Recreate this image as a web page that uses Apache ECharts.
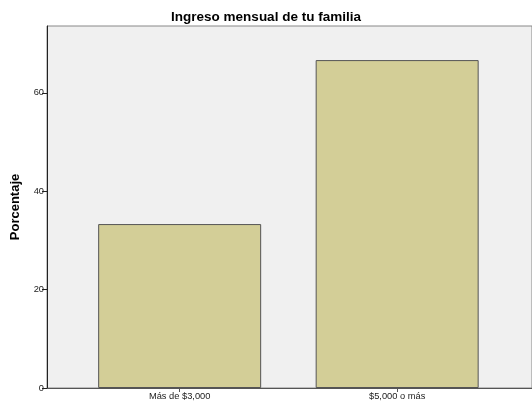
<!DOCTYPE html>
<html>
<head>
<meta charset="utf-8">
<script src="https://cdn.jsdelivr.net/npm/echarts@6/dist/echarts.min.js"></script>
<style>
  html, body { margin: 0; padding: 0; background: #fff; }
  #main { width: 532px; height: 408px; }
</style>
</head>
<body>
<div id="main"></div>
<script>
// datos del grafico
var categorias = ['Más de $3,000', '$5,000 o más'];
var posiciones = [1, 2];
var porcentajes = [33.33, 66.67];
var ticksY = [0, 20, 40, 60];

var myChart = echarts.init(document.getElementById('main'));

var datos = [];
for (var i = 0; i < categorias.length; i++) {
    datos.push([posiciones[i], porcentajes[i]]);
}

var option = {
    animation: false,
    backgroundColor: '#ffffff',
    title: {
        text: 'Ingreso mensual de tu familia',
        left: 'center',
        top: 5,
        textStyle: { fontFamily: 'Liberation Sans', fontSize: 13.5, fontWeight: 'bold', color: '#000' }
    },
    grid: {
        left: 47, right: -2, top: 26, bottom: 20,
        show: true,
        backgroundColor: '#f0f0f0',
        borderColor: '#888',
        borderWidth: 1
    },
    xAxis: {
        type: 'value',
        min: 0.39,
        max: 2.62,
        splitLine: { show: false },
        axisLine: { show: true, onZero: false, lineStyle: { color: '#555', width: 1 } },
        axisTick: { show: true, customValues: posiciones, length: 4, lineStyle: { color: '#555' } },
        axisLabel: {
            customValues: posiciones,
            formatter: function (v) { return categorias[Math.round(v) - 1]; },
            fontFamily: 'Liberation Sans', fontSize: 9.3, color: '#222', margin: 4
        }
    },
    yAxis: {
        type: 'value',
        min: 0,
        max: 73.6,
        name: 'Porcentaje',
        nameLocation: 'middle',
        nameGap: 25,
        nameTextStyle: { fontFamily: 'Liberation Sans', fontSize: 13, fontWeight: 'bold', color: '#000' },
        splitLine: { show: false },
        axisLine: { show: true, lineStyle: { color: '#222', width: 1 } },
        axisTick: { show: true, customValues: ticksY, length: 5, lineStyle: { color: '#222' } },
        axisLabel: {
            customValues: ticksY,
            fontFamily: 'Liberation Sans', fontSize: 9.3, color: '#222', margin: 3
        }
    },
    series: [{
        type: 'bar',
        data: datos,
        barWidth: 163,
        itemStyle: { color: '#d3ce97', borderColor: '#555', borderWidth: 1 }
    }]
};
myChart.setOption(option);
</script>
</body>
</html>
